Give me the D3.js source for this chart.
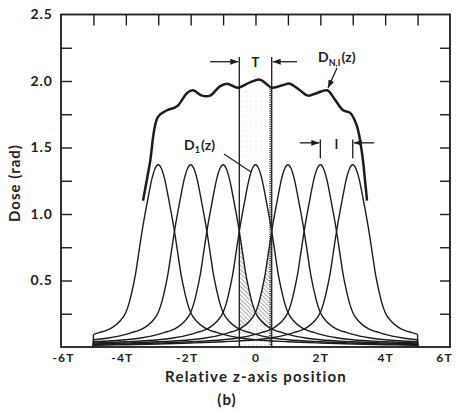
<!DOCTYPE html>
<html><head><meta charset="utf-8">
<script src="https://cdn.jsdelivr.net/npm/d3@7"></script>
<style>
body{margin:0;background:#fff}
svg{display:block}
text{font-family:Lato,"DejaVu Sans",sans-serif;font-weight:700;fill:#222}
</style>
</head><body>
<svg id="chart" width="456" height="410"></svg>
<script>
// ---------- data ----------
const xTickValues = [-6, -4, -2, 0, 2, 4, 6];
const xTickLabels = ["-6T", "-4T", "-2T", "0", "2T", "4T", "6T"];
const topTickValues = [-5, -4, -3, -2, -1, 0, 1, 2, 3, 4, 5];
const yTickValues = [0.5, 1.0, 1.5, 2.0, 2.5];
const yTickLabels = ["0.5", "1.0", "1.5", "2.0", "2.5"];
const yMinorTickValues = [0.25, 0.5, 0.75, 1.0, 1.25, 1.5, 1.75, 2.0, 2.25];
const scanCenters = [-3, -2, -1, 0, 1, 2, 3];           // in units of T
const phantomEnds = [-5, 5];
// single-scan profile D1(z): dose vs |offset| from scan centre (units of T)
const profileOffset = [0, 0.1, 0.2, 0.3, 0.4, 0.5, 0.6, 0.7, 0.8, 0.9, 1.0, 1.2, 1.4, 1.6, 1.8, 2.0, 2.5, 3, 4, 5, 6, 7, 8];
const profileDose   = [1.37, 1.34, 1.26, 1.14, 1.01, 0.87, 0.71, 0.55, 0.43, 0.33, 0.26, 0.19, 0.15, 0.125, 0.11, 0.095, 0.07, 0.055, 0.04, 0.03, 0.022, 0.017, 0.013];
// multiple-scan dose profile D_N,I(z)
const sumZ    = [-3.47, -3.26, -3.01, -2.73, -2.42, -2.11, -1.93, -1.65, -1.40, -1.10, -0.88, -0.54, -0.17, 0.14, 0.51, 0.85, 1.06, 1.37, 1.62, 1.90, 2.21, 2.45, 2.70, 2.92, 3.13, 3.29, 3.38, 3.44];
const sumDose = [1.10, 1.38, 1.73, 1.78, 1.81, 1.91, 1.93, 1.89, 1.89, 1.96, 1.98, 1.95, 1.99, 2.01, 1.95, 1.97, 1.98, 1.93, 1.89, 1.91, 1.93, 1.86, 1.78, 1.76, 1.66, 1.45, 1.25, 1.10];

// ---------- layout ----------
const L = 61, R = 450, T0 = 14.5, B = 347;
const svg = d3.select("#chart");
const x = d3.scaleLinear().domain([-6, 6]).range([L, R]);
const y = d3.scaleLinear().domain([0, 2.5]).range([B, T0]);
const ink = "#1c1c1c";

const defs = svg.append("defs");
defs.append("marker").attr("id", "arr").attr("viewBox", "0 0 8 6")
  .attr("refX", 8).attr("refY", 3).attr("markerWidth", 8).attr("markerHeight", 6)
  .attr("markerUnits", "userSpaceOnUse").attr("orient", "auto")
  .append("path").attr("d", "M0,0L8,3L0,6Z").attr("fill", ink);
const hatch = defs.append("pattern").attr("id", "hatch").attr("width", 3).attr("height", 3)
  .attr("patternUnits", "userSpaceOnUse").attr("patternTransform", "rotate(-45)");
hatch.append("line").attr("x1", 0).attr("y1", 0).attr("x2", 0).attr("y2", 3)
  .attr("stroke", "#444").attr("stroke-width", 0.9);
const dots = defs.append("pattern").attr("id", "dots").attr("width", 4).attr("height", 4)
  .attr("patternUnits", "userSpaceOnUse");
dots.append("circle").attr("cx", 1).attr("cy", 1).attr("r", 0.6).attr("fill", "#999");
const fdots = defs.append("pattern").attr("id", "fdots").attr("width", 5).attr("height", 5)
  .attr("patternUnits", "userSpaceOnUse");
fdots.append("circle").attr("cx", 1).attr("cy", 1).attr("r", 0.6).attr("fill", "#d8d8d8");

function profilePoints(c) {
  const pts = [];
  for (let i = profileOffset.length - 1; i > 0; i--) pts.push([c - profileOffset[i], profileDose[i]]);
  for (let i = 0; i < profileOffset.length; i++) pts.push([c + profileOffset[i], profileDose[i]]);
  return pts.filter(p => p[0] >= phantomEnds[0] - 1e-9 && p[0] <= phantomEnds[1] + 1e-9);
}
const sumPts = sumZ.map((z, i) => [z, sumDose[i]]);

const line = d3.line().x(d => x(d[0])).y(d => y(d[1])).curve(d3.curveMonotoneX);
const area = d3.area().x(d => x(d[0])).y0(y(0)).y1(d => y(d[1])).curve(d3.curveMonotoneX);
const sumLine = d3.line().x(d => x(d[0])).y(d => y(d[1])).curve(d3.curveCatmullRom.alpha(0.5));
const sumArea = d3.area().x(d => x(d[0])).y0(y(0)).y1(d => y(d[1])).curve(d3.curveCatmullRom.alpha(0.5));

// clip paths / masks for shaded regions
function clipRect(id, z0, z1) {
  defs.append("clipPath").attr("id", id).append("rect")
    .attr("x", x(z0)).attr("y", 0).attr("width", x(z1) - x(z0)).attr("height", B);
}
clipRect("bandAll", -0.5, 0.5);
clipRect("bandL", -0.5, 0);
clipRect("bandR", 0, 0.5);
function maskPair(id, whitePts, blackPts, whiteGen) {
  const m = defs.append("mask").attr("id", id).attr("maskUnits", "userSpaceOnUse")
    .attr("x", 0).attr("y", 0).attr("width", 456).attr("height", 410);
  m.append("path").attr("d", (whiteGen || area)(whitePts)).attr("fill", "#fff");
  if (blackPts) m.append("path").attr("d", area(blackPts)).attr("fill", "#000");
}
maskPair("mTop", sumPts, profilePoints(0), sumArea);
maskPair("mL", profilePoints(-1), profilePoints(1));
maskPair("mR", profilePoints(1), profilePoints(-1));
defs.append("clipPath").attr("id", "underL").append("path").attr("d", area(profilePoints(-1)));
defs.append("mask").attr("id", "mLow").attr("maskUnits", "userSpaceOnUse")
  .attr("x", 0).attr("y", 0).attr("width", 456).attr("height", 410)
  .append("path").attr("d", area(profilePoints(1))).attr("fill", "#fff");

const shade = svg.append("g");
shade.append("g").attr("clip-path", "url(#bandAll)")
  .append("rect").attr("x", L).attr("y", T0).attr("width", R - L).attr("height", B - T0)
  .attr("fill", "url(#fdots)").attr("mask", "url(#mTop)");
shade.append("g").attr("clip-path", "url(#bandL)")
  .append("rect").attr("x", L).attr("y", T0).attr("width", R - L).attr("height", B - T0)
  .attr("fill", "url(#hatch)").attr("mask", "url(#mL)");
shade.append("g").attr("clip-path", "url(#bandR)")
  .append("rect").attr("x", L).attr("y", T0).attr("width", R - L).attr("height", B - T0)
  .attr("fill", "url(#hatch)").attr("mask", "url(#mR)");
shade.append("g").attr("clip-path", "url(#bandAll)")
  .append("g").attr("clip-path", "url(#underL)")
  .append("rect").attr("x", L).attr("y", T0).attr("width", R - L).attr("height", B - T0)
  .attr("fill", "url(#dots)").attr("mask", "url(#mLow)");

// ---------- axes ----------
svg.append("g").attr("transform", `translate(${L},0)`)
  .call(d3.axisLeft(y).tickValues(yMinorTickValues).tickSize(-11).tickFormat(""))
  .call(g => g.select(".domain").remove())
  .call(g => g.selectAll("line").attr("stroke", ink).attr("stroke-width", 1.4));
svg.append("g").attr("transform", `translate(${L},0)`)
  .call(d3.axisLeft(y).tickValues(yTickValues).tickSize(0).tickPadding(8)
    .tickFormat((d, i) => yTickLabels[i]))
  .call(g => g.select(".domain").remove())
  .call(g => g.selectAll("text").attr("font-size", 14).attr("letter-spacing", 1)
    .attr("font-family", "Lato, sans-serif").attr("font-weight", 700).attr("fill", "#222"));
svg.append("g").attr("transform", `translate(${R},0)`)
  .call(d3.axisRight(y).tickValues(yMinorTickValues).tickSize(-10).tickFormat(""))
  .call(g => g.select(".domain").remove())
  .call(g => g.selectAll("line").attr("stroke", ink).attr("stroke-width", 1.4));
svg.append("g").attr("transform", `translate(0,${T0})`)
  .call(d3.axisTop(x).tickValues(topTickValues).tickSize(-11).tickFormat(""))
  .call(g => g.select(".domain").remove())
  .call(g => g.selectAll("line").attr("stroke", ink).attr("stroke-width", 1.4));
svg.append("g").attr("transform", `translate(0,${B})`)
  .call(d3.axisBottom(x).tickValues(xTickValues).tickSize(0).tickPadding(6)
    .tickFormat((d, i) => xTickLabels[i]))
  .call(g => g.select(".domain").remove())
  .call(g => g.selectAll("text").attr("font-size", 12).attr("letter-spacing", 1.2)
    .attr("dx", d => d === 6 ? -6 : (d < 0 && d > -6) ? -4 : (d === -6 ? 2 : 0))
    .attr("font-family", "Lato, sans-serif").attr("font-weight", 700).attr("fill", "#222"));
svg.append("rect").attr("x", L).attr("y", T0).attr("width", R - L).attr("height", B - T0)
  .attr("fill", "none").attr("stroke", ink).attr("stroke-width", 1.8);

// ---------- single scan profiles ----------
const prof = svg.append("g").attr("fill", "none").attr("stroke", ink).attr("stroke-width", 1.4);
scanCenters.forEach(c => {
  const pts = profilePoints(c);
  prof.append("path").attr("d", line(pts));
  prof.append("path").attr("d", line([[pts[0][0], 0], pts[0]]));
  prof.append("path").attr("d", line([pts[pts.length - 1], [pts[pts.length - 1][0], 0]]));
});

// ---------- multiple scan profile ----------
svg.append("path").attr("d", sumLine(sumPts)).attr("fill", "none")
  .attr("stroke", ink).attr("stroke-width", 2.5).attr("stroke-linejoin", "round");

// ---------- annotations ----------
const ann = svg.append("g").attr("stroke", ink).attr("fill", "none");
const bandTop = 2.18, arrowY = 2.145;
ann.append("line").attr("x1", x(-0.5)).attr("x2", x(-0.5)).attr("y1", y(bandTop)).attr("y2", y(0)).attr("stroke-width", 1.3);
ann.append("line").attr("x1", x(0.5)).attr("x2", x(0.5)).attr("y1", y(bandTop)).attr("y2", y(0)).attr("stroke-width", 1.3);
ann.append("line").attr("x1", x(0.5) - 1.2).attr("x2", x(0.5) - 1.2).attr("y1", y(1.96)).attr("y2", y(0))
  .attr("stroke-width", 2.4).attr("stroke-dasharray", "1,1.2").attr("stroke", "#333");
ann.append("line").attr("x1", x(-1.40)).attr("x2", x(-0.5) - 1).attr("y1", y(arrowY)).attr("y2", y(arrowY))
  .attr("stroke-width", 1.3).attr("marker-end", "url(#arr)");
ann.append("line").attr("x1", x(1.28)).attr("x2", x(0.5) + 1).attr("y1", y(arrowY)).attr("y2", y(arrowY))
  .attr("stroke-width", 1.3).attr("marker-end", "url(#arr)");
// increment I
const incTop = 1.56, incBot = 1.42, incArrow = 1.535;
[2, 3].forEach(z => ann.append("line").attr("x1", x(z)).attr("x2", x(z)).attr("y1", y(incTop)).attr("y2", y(incBot)).attr("stroke-width", 1.3));
ann.append("line").attr("x1", x(1.37)).attr("x2", x(2) - 1).attr("y1", y(incArrow)).attr("y2", y(incArrow))
  .attr("stroke-width", 1.3).attr("marker-end", "url(#arr)");
ann.append("line").attr("x1", x(3.66)).attr("x2", x(3) + 1).attr("y1", y(incArrow)).attr("y2", y(incArrow))
  .attr("stroke-width", 1.3).attr("marker-end", "url(#arr)");
// leaders
ann.append("line").attr("x1", 337).attr("y1", 68).attr("x2", 328).attr("y2", 88)
  .attr("stroke-width", 1.3).attr("marker-end", "url(#arr)");
ann.append("line").attr("x1", 224).attr("y1", 154).attr("x2", 251).attr("y2", 172)
  .attr("stroke-width", 1.2);

svg.append("text").attr("x", x(0)).attr("y", y(arrowY) + 5).attr("text-anchor", "middle")
  .attr("font-size", 13).text("T");
svg.append("text").attr("x", x(2.5)).attr("y", y(incArrow) + 6).attr("text-anchor", "middle")
  .attr("font-size", 13).text("I");
const tN = svg.append("text").attr("x", 318).attr("y", 62).attr("font-size", 14);
tN.append("tspan").text("D");
tN.append("tspan").attr("font-size", 9).attr("dy", 4).text("N,I");
tN.append("tspan").attr("dy", -4).attr("dx", 1).text("(z)");
const t1 = svg.append("text").attr("x", 184).attr("y", 150).attr("font-size", 14);
t1.append("tspan").text("D");
t1.append("tspan").attr("font-size", 9).attr("dy", 3).text("1");
t1.append("tspan").attr("dy", -3).attr("dx", 1).text("(z)");

svg.append("text").attr("transform", "translate(20,183) rotate(-90)").attr("text-anchor", "middle")
  .attr("font-size", 15).attr("letter-spacing", 1).text("Dose (rad)");
svg.append("text").attr("x", 256).attr("y", 382).attr("text-anchor", "middle")
  .attr("font-size", 15).attr("letter-spacing", 1.2).text("Relative z-axis position");
svg.append("text").attr("x", 227).attr("y", 405).attr("text-anchor", "middle")
  .attr("font-size", 15).attr("letter-spacing", 1).text("(b)");
</script>
</body></html>
